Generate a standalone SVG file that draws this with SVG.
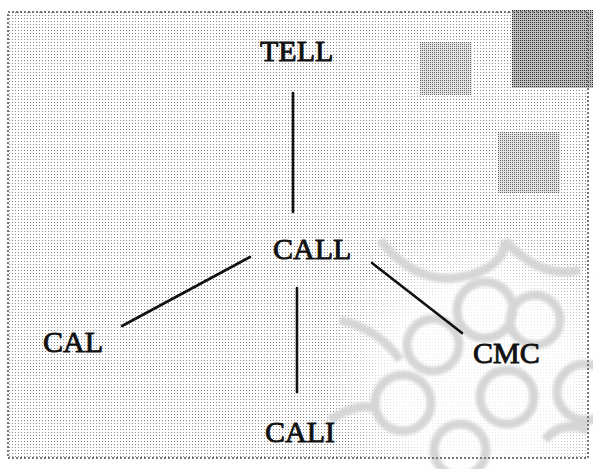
<svg xmlns="http://www.w3.org/2000/svg" width="593" height="469" viewBox="0 0 593 469">
<style>
.lbl{font-family:"Liberation Serif","Times New Roman",serif;font-size:30px;fill:#111;stroke:#111;stroke-width:0.9}
.edge{stroke:#111;stroke-width:2.6;fill:none;stroke-linecap:round}
.ring{fill:none;stroke:#d6d6d6;stroke-width:9}
.frame{fill:none;stroke:#777;stroke-width:2;stroke-dasharray:2 2}
</style>
<defs>
<pattern id="dots" width="3" height="3" patternUnits="userSpaceOnUse">
<rect width="3" height="3" fill="#ffffff"/>
<rect width="1" height="1" fill="#8a8a8a"/>
</pattern>
<pattern id="dense" width="2" height="2" patternUnits="userSpaceOnUse">
<rect width="2" height="2" fill="#c0c0c0"/>
<rect width="1" height="1" fill="#333"/>
</pattern>
<pattern id="mid" width="2" height="2" patternUnits="userSpaceOnUse">
<rect width="2" height="2" fill="#e4e4e4"/>
<rect width="1" height="1" fill="#666"/>
</pattern>
<radialGradient id="fade" cx="0.5" cy="0.5" r="0.5">
<stop offset="0.6" stop-color="#fff" stop-opacity="0.8"/>
<stop offset="1" stop-color="#fff" stop-opacity="0"/>
</radialGradient>
<filter id="soft"><feGaussianBlur stdDeviation="1.5"/></filter>
</defs>
<rect width="593" height="469" fill="#ffffff"/>
<rect x="8" y="12" width="580" height="446" fill="url(#dots)"/>
<rect x="512" y="10" width="81" height="78" fill="url(#dense)"/>
<rect x="420" y="42" width="52" height="53" fill="url(#mid)"/>
<rect x="498" y="132" width="62" height="61" fill="url(#mid)"/>
<g id="decor" filter="url(#soft)">
<circle cx="480" cy="375" r="150" fill="url(#fade)"/>
<circle class="ring" cx="433" cy="345" r="26"/>
<circle class="ring" cx="485" cy="310" r="28"/>
<circle class="ring" cx="535" cy="320" r="25"/>
<circle class="ring" cx="403" cy="403" r="28"/>
<circle class="ring" cx="507" cy="397" r="27"/>
<circle class="ring" cx="460" cy="450" r="26"/>
<circle class="ring" cx="585" cy="392" r="28"/>
<path class="ring" d="M380 240 Q420 290 470 275 Q505 265 505 240"/>
<path class="ring" d="M505 240 Q540 280 580 270"/>
<path class="ring" d="M340 320 Q380 330 400 360"/>
<path class="ring" d="M330 420 Q360 400 378 410"/>
<path class="ring" d="M545 440 Q560 420 588 430"/>
</g>
<rect class="frame" x="8" y="12" width="580" height="446"/>
<g id="connectors">
<line class="edge" x1="293" y1="93" x2="293" y2="212"/>
<line class="edge" x1="122" y1="326" x2="250" y2="257"/>
<line class="edge" x1="297" y1="288" x2="297" y2="392"/>
<line class="edge" x1="372" y1="263" x2="462" y2="333"/>
</g>
<g id="tell"><text class="lbl" x="260" y="61">TELL</text></g>
<g id="call"><text class="lbl" x="273" y="259">CALL</text></g>
<g id="cal"><text class="lbl" x="43" y="352">CAL</text></g>
<g id="cmc"><text class="lbl" x="473" y="363">CMC</text></g>
<g id="cali"><text class="lbl" x="265" y="442">CALI</text></g>
</svg>
